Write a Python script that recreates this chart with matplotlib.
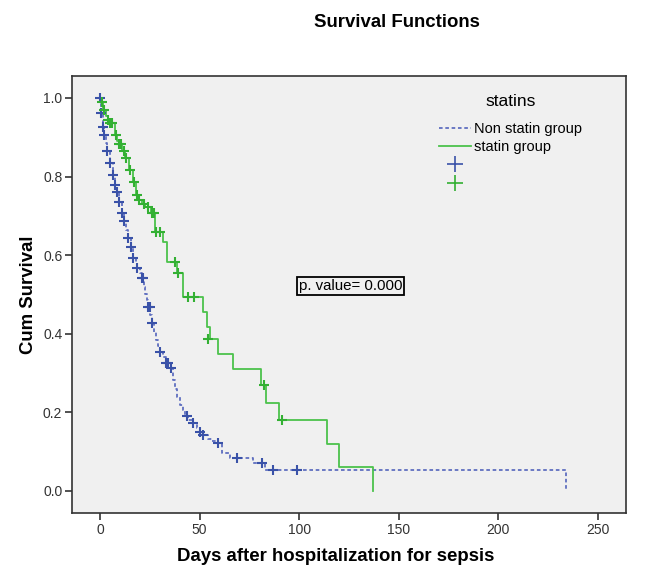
import matplotlib.pyplot as plt
from matplotlib.lines import Line2D

plt.rcParams['font.family'] = ['Liberation Sans', 'DejaVu Sans']

# step curves: event time (days) and survival after it
non_statin_t = [0, 0.3, 1.3, 2.0, 3.0, 3.5, 5.0, 6.4, 7.5, 8.4, 9.7, 10.9, 12.0, 13.0,
                14.2, 15.4, 16.7, 18.0, 18.7, 20.2, 20.9, 22.0, 22.5, 23.4, 24.3, 25.2,
                25.9, 27.0, 28.0, 29.0, 30.1, 31.5, 33.1, 35.5, 36.5, 37.5, 38.5, 40.0,
                41.5, 42.5, 44.3, 46.9, 48.5, 50.2, 51.9, 54.0, 56.0, 59.4, 61.1, 65.3,
                77.0, 82.8, 234.0]
non_statin_s = [1.0, 0.962, 0.927, 0.906, 0.885, 0.865, 0.835, 0.804, 0.779, 0.761, 0.735,
                0.707, 0.687, 0.665, 0.644, 0.622, 0.593, 0.580, 0.567, 0.555, 0.542, 0.520,
                0.500, 0.485, 0.469, 0.448, 0.427, 0.405, 0.385, 0.370, 0.354, 0.340, 0.326,
                0.312, 0.282, 0.260, 0.240, 0.220, 0.205, 0.190, 0.181, 0.172, 0.160, 0.151,
                0.142, 0.132, 0.128, 0.121, 0.096, 0.083, 0.070, 0.053, 0.0]
statin_t = [0, 0.5, 1.5, 3.0, 4.0, 6.0, 7.5, 8.5, 9.5, 11.0, 12.5, 14.6, 16.6, 18.0, 19.0,
            21.0, 22.6, 25.6, 27.6, 31.6, 33.6, 38.7, 41.5, 51.6, 53.6, 55.2, 59.2, 66.6,
            80.7, 83.3, 89.9, 113.8, 120.0, 136.9]
statin_s = [1.0, 0.99, 0.969, 0.955, 0.945, 0.936, 0.906, 0.89, 0.883, 0.865, 0.847, 0.817,
            0.786, 0.753, 0.740, 0.730, 0.723, 0.707, 0.659, 0.634, 0.583, 0.555, 0.494,
            0.455, 0.417, 0.387, 0.349, 0.310, 0.270, 0.225, 0.181, 0.120, 0.061, 0.0]

# censored observations
non_statin_cens_t = [0, 0.3, 1.3, 2.0, 3.3, 5.0, 6.4, 7.5, 8.4, 9.7, 10.9, 12.0, 14.2, 15.4,
                     16.7, 18.7, 20.9, 21.5, 24.3, 25.0, 25.9, 30.1, 33.1, 34.0, 35.5, 43.5,
                     46.9, 50.2, 51.9, 59.4, 68.6, 81.2, 87.0, 98.7]
non_statin_cens_s = [1.0, 0.962, 0.927, 0.906, 0.865, 0.835, 0.804, 0.779, 0.761, 0.735, 0.707,
                     0.687, 0.644, 0.622, 0.593, 0.567, 0.542, 0.542, 0.469, 0.469, 0.427, 0.354,
                     0.326, 0.326, 0.312, 0.190, 0.172, 0.151, 0.142, 0.121, 0.083, 0.070, 0.053,
                     0.053]
statin_cens_t = [1.0, 2.0, 4.0, 5.0, 6.0, 8.0, 9.5, 10.5, 12.0, 13.0, 15.0, 17.0, 18.5, 19.5,
                 22.0, 24.0, 26.0, 27.0, 28.0, 30.0, 37.5, 39.0, 44.2, 47.2, 54.0, 82.3, 91.4]
statin_cens_s = [0.99, 0.969, 0.945, 0.936, 0.936, 0.906, 0.883, 0.883, 0.865, 0.847, 0.817,
                 0.786, 0.753, 0.740, 0.730, 0.723, 0.707, 0.707, 0.659, 0.659, 0.583, 0.555,
                 0.494, 0.494, 0.387, 0.270, 0.181]

blue_line = '#5f6fc0'
blue_mark = '#3a52a8'
green_line = '#4cc24c'
green_mark = '#33b033'

fig = plt.figure(figsize=(6.49, 5.84), dpi=100)
ax = fig.add_axes([0.1109, 0.1216, 0.8536, 0.7483])
ax.set_facecolor('#f0f0f0')

ax.step(non_statin_t, non_statin_s, where='post', color=blue_line, lw=1.3,
        linestyle=(0, (2, 1.5)))
ax.step(statin_t, statin_s, where='post', color=green_line, lw=1.3)
ax.plot(non_statin_cens_t, non_statin_cens_s, '+', color=blue_mark, ms=7, mew=1.5)
ax.plot(statin_cens_t, statin_cens_s, '+', color=green_mark, ms=7, mew=1.5)

ax.set_xlim(-14.06, 264.06)
ax.set_ylim(-0.056, 1.056)
ax.set_xticks([0, 50, 100, 150, 200, 250])
ax.set_yticks([0.0, 0.2, 0.4, 0.6, 0.8, 1.0])
ax.set_yticklabels(['0.0', '0.2', '0.4', '0.6', '0.8', '1.0'])
ax.tick_params(direction='out', length=5, width=1.2, color='#333333',
               labelsize=10, labelcolor='#333333', pad=2)
for side in ax.spines.values():
    side.set_color('#333333')
    side.set_linewidth(1.2)

ax.set_xlabel('Days after hospitalization for sepsis', fontsize=13.4, fontweight='bold')
ax.xaxis.set_label_coords(0.4765, -0.079)
ax.set_ylabel('Cum Survival', fontsize=13.4, fontweight='bold')
ax.yaxis.set_label_coords(-0.064, 0.5)
fig.text(0.612, 0.962, 'Survival Functions', ha='center', va='center',
         fontsize=13.4, fontweight='bold')

ax.text(0.409, 0.519, 'p. value= 0.000', transform=ax.transAxes, ha='left', va='center',
        fontsize=10.8, bbox=dict(boxstyle='square,pad=0.12', fc='none', ec='black', lw=1.3))

handles = [
    Line2D([], [], color=blue_line, lw=1.3, linestyle=(0, (2, 1.5))),
    Line2D([], [], color=green_line, lw=1.3),
    Line2D([], [], color=blue_mark, marker='+', ms=11, mew=1.2, linestyle='none'),
    Line2D([], [], color=green_mark, marker='+', ms=11, mew=1.2, linestyle='none'),
]
leg = ax.legend(handles, ['Non statin group', 'statin group', '', ''],
                title='statins', loc='upper left', bbox_to_anchor=(0.642, 0.985),
                frameon=False, fontsize=10.5, title_fontsize=12.5, handlelength=2.2,
                handletextpad=0.2, labelspacing=0.3, borderpad=0.3)
leg._legend_box.sep = 9

fig.savefig('out.png', dpi=100)
